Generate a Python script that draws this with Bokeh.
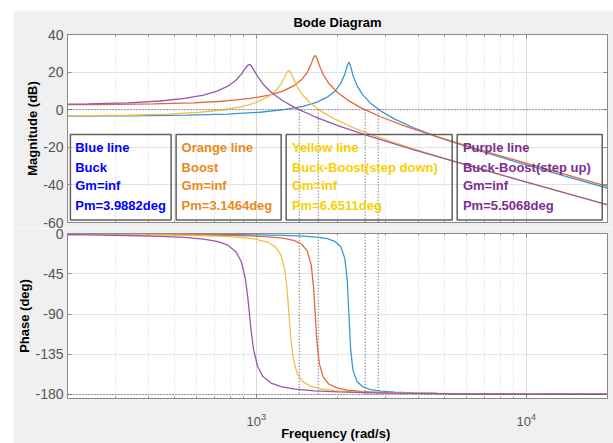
from bokeh.plotting import figure
from bokeh.layouts import column
from bokeh.models import (FixedTicker, LogAxis, LinearAxis, Range1d, Span, CustomJSTickFormatter)
from bokeh.core.properties import value
from bokeh.embed import file_html
from bokeh.resources import INLINE

# ---------------- data ----------------
blue_w = [175, 349, 554, 782, 1031, 1268, 1490, 1672, 1833, 1964, 2057, 2129, 2174, 2204,
          2235, 2281, 2362, 2473, 2650, 2906, 3260, 3830, 4712, 6212, 8774, 13907, 22040]
blue_mag = [-3.45, -3.28, -2.93, -2.33, -1.36, -0.01, 1.80, 3.92, 6.68, 10.13, 14.00, 18.97, 23.47, 25.36,
            23.24, 18.37, 12.80, 8.13, 3.48, -0.88, -5.00, -9.61, -14.56, -20.33, -26.93, -35.28, -43.41]
blue_phase = [-0.17, -0.34, -0.55, -0.84, -1.24, -1.78, -2.57, -3.69, -5.56, -8.88, -14.62, -27.58, -52.49, -90.0,
              -127.45, -152.43, -165.39, -171.12, -174.44, -176.31, -177.43, -178.22, -178.76, -179.16, -179.45, -179.66, -179.79]

orange_w = [131, 262, 416, 587, 774, 952, 1118, 1255, 1376, 1474, 1544, 1598, 1631, 1654,
            1677, 1712, 1772, 1856, 1989, 2181, 2447, 2874, 3536, 4662, 6585, 10437, 16540, 37030]
orange_mag = [2.56, 2.72, 3.07, 3.67, 4.64, 5.99, 7.79, 9.91, 12.65, 16.05, 19.79, 24.31, 27.75, 28.88,
              27.51, 23.70, 18.59, 14.05, 9.45, 5.11, 0.99, -3.61, -8.56, -14.33, -20.94, -29.28, -37.41, -51.48]
orange_phase = [-0.22, -0.45, -0.74, -1.12, -1.65, -2.36, -3.42, -4.90, -7.38, -11.75, -19.15, -34.81, -60.03, -90.0,
                -119.91, -145.21, -160.86, -168.25, -172.62, -175.10, -176.58, -177.64, -178.35, -178.88, -179.26, -179.55, -179.72, -179.88]

yellow_w = [105, 210, 332, 469, 618, 761, 894, 1003, 1100, 1178, 1234, 1277, 1304, 1322,
            1340, 1369, 1417, 1483, 1589, 1743, 1955, 2297, 2826, 3726, 5263, 8342, 13220, 29590]
yellow_mag = [-3.45, -3.28, -2.94, -2.33, -1.36, -0.02, 1.78, 3.89, 6.61, 9.95, 13.53, 17.56, 20.18, 20.89,
              19.95, 16.95, 12.33, 7.95, 3.41, -0.91, -5.02, -9.62, -14.56, -20.33, -26.94, -35.28, -43.41, -57.48]
yellow_phase = [-0.28, -0.56, -0.93, -1.40, -2.07, -2.97, -4.30, -6.15, -9.24, -14.64, -23.57, -41.13, -65.35, -90.0,
                -114.65, -138.87, -156.43, -165.36, -170.76, -173.85, -175.71, -177.03, -177.93, -178.60, -179.07, -179.44, -179.65, -179.85]

purple_w = [75, 150, 237, 335, 442, 543, 638, 716, 785, 841, 881, 912, 931, 944,
            957, 977, 1012, 1059, 1135, 1245, 1396, 1641, 2018, 2661, 3758, 5956, 9440, 21140]
purple_mag = [2.56, 2.72, 3.06, 3.66, 4.63, 5.97, 7.76, 9.84, 12.50, 15.69, 18.92, 22.06, 23.67, 23.99,
              23.43, 21.46, 17.71, 13.69, 9.31, 5.04, 0.96, -3.63, -8.57, -14.34, -20.94, -29.28, -37.41, -51.48]
purple_phase = [-0.39, -0.78, -1.29, -1.96, -2.89, -4.14, -5.99, -8.56, -12.80, -20.04, -31.35, -50.64, -71.80, -90.0,
                -108.20, -129.36, -148.65, -159.96, -167.20, -171.45, -174.01, -175.86, -177.11, -178.04, -178.71, -179.22, -179.51, -179.78]

# gain-crossover frequencies (rad/s) marked with dotted verticals
crossover_w = [1443, 1697, 2532, 2830]

series_names = ["Blue line", "Orange line", "Yellow line", "Purple line"]
converter_types = ["Buck", "Boost", "Buck-Boost(step down)", "Buck-Boost(step up)"]
gain_margins = ["inf", "inf", "inf", "inf"]
phase_margins = ["3.9882", "3.1464", "6.6511", "5.5068"]

mag_ticks = [-60, -40, -20, 0, 20, 40]
phase_ticks = [-180, -135, -90, -45, 0]
freq_major_ticks = [1000, 10000]
freq_minor_ticks = [200, 300, 400, 500, 600, 700, 800, 900,
                    2000, 3000, 4000, 5000, 6000, 7000, 8000, 9000, 20000]

# ---------------- styling ----------------
FONT = "Liberation Sans"
LINE_COLORS = ["#3b97d3", "#e2683c", "#f2c04a", "#9a56ad"]
TEXT_COLORS = ["#0000ff", "#e98a1d", "#f8d000", "#7e2f8e"]
AXIS_C = "#8a8a8a"
TICKLBL_C = "#555555"
BG = "#f0f0f0"
BLANK = "return ''"

X0, X1 = 200, 20000


def xticker():
    return FixedTicker(ticks=freq_major_ticks, minor_ticks=freq_minor_ticks)


def style(p, ylabel, yticks, show_x_labels, top_label=None):
    p.background_fill_color = "white"
    p.border_fill_color = BG
    p.outline_line_color = AXIS_C
    p.xaxis.ticker = xticker()
    p.xgrid.ticker = xticker()
    p.xgrid.grid_line_color = "#d9d9d9"
    p.xgrid.minor_grid_line_color = "#d6d6d6"
    p.xgrid.minor_grid_line_dash = "1 2"
    p.ygrid.ticker = FixedTicker(ticks=yticks)
    p.ygrid.grid_line_color = "#e3e3e3"
    p.yaxis.ticker = FixedTicker(ticks=yticks)
    p.yaxis.major_label_overrides = {t: str(t) for t in yticks}
    for ax in p.xaxis + p.yaxis:
        ax.axis_line_color = AXIS_C
        ax.major_tick_line_color = AXIS_C
        ax.minor_tick_line_color = AXIS_C
        ax.major_tick_in = 4
        ax.major_tick_out = 0
        ax.minor_tick_in = 2
        ax.minor_tick_out = 0
        ax.major_label_text_color = TICKLBL_C
        ax.major_label_text_font = FONT
        ax.axis_label_text_font = FONT
        ax.axis_label_text_font_style = "bold"
        ax.axis_label_text_color = "black"
        ax.axis_label_text_font_size = "13px"
    p.yaxis.major_label_text_font_size = "14px"
    p.yaxis.major_label_standoff = 4
    p.yaxis.axis_label = ylabel
    p.yaxis.axis_label_standoff = 0
    if show_x_labels:
        p.xaxis.major_label_text_font_size = "13px"
        p.xaxis.major_label_standoff = 14
    else:
        p.xaxis.formatter = CustomJSTickFormatter(code=BLANK)
        p.xaxis.major_label_standoff = 0
    # box ticks on the top and right sides
    top = LogAxis(ticker=xticker(), formatter=CustomJSTickFormatter(code=BLANK),
                  major_label_standoff=0, major_tick_in=4, major_tick_out=0, minor_tick_in=2,
                  minor_tick_out=0, axis_line_color=AXIS_C, major_tick_line_color=AXIS_C,
                  minor_tick_line_color=AXIS_C)
    if top_label:
        top.axis_label = top_label
        top.axis_label_text_font = FONT
        top.axis_label_text_font_style = "bold"
        top.axis_label_text_font_size = "13px"
        top.axis_label_text_color = "black"
        top.axis_label_standoff = 5
    p.add_layout(top, "above")
    right = LinearAxis(ticker=FixedTicker(ticks=yticks), formatter=CustomJSTickFormatter(code=BLANK),
                       major_label_standoff=0, major_tick_in=4, major_tick_out=0,
                       axis_line_color=AXIS_C, major_tick_line_color=AXIS_C)
    p.add_layout(right, "right")


p1 = figure(width=600, height=218, x_axis_type="log", x_range=Range1d(X0, X1),
            y_range=Range1d(-60, 40), output_backend="svg", toolbar_location=None,
            min_border_left=54, min_border_right=6, min_border_top=24, min_border_bottom=6,
            margin=(10, 0, 0, 13))
style(p1, "Magnitude (dB)", mag_ticks, False, top_label="Bode Diagram")

p2 = figure(width=600, height=215, x_axis_type="log", x_range=Range1d(X0, X1),
            y_range=Range1d(-184.5, 0.3), output_backend="svg", toolbar_location=None,
            min_border_left=54, min_border_right=6, min_border_top=5, min_border_bottom=45,
            margin=(0, 0, 0, 13))
style(p2, "Phase (deg)", phase_ticks, True)
p2.below[0].axis_label = "Frequency  (rad/s)"
p2.below[0].axis_label_standoff = -3

# reference lines
p1.add_layout(Span(location=0, dimension="width", line_color="#4a4a4a", line_dash="1 2", line_width=1))
p2.add_layout(Span(location=-180, dimension="width", line_color="#4a4a4a", line_dash="1 2", line_width=1))
p1.segment(x0=crossover_w, y0=[0] * 4, x1=crossover_w, y1=[mag_ticks[0]] * 4,
           line_color="#4a4a4a", line_dash="1 2", line_width=1)
p2.segment(x0=crossover_w, y0=[phase_ticks[-1]] * 4, x1=crossover_w, y1=[phase_ticks[0]] * 4,
           line_color="#4a4a4a", line_dash="1 2", line_width=1)

mags = [(blue_w, blue_mag), (orange_w, orange_mag), (yellow_w, yellow_mag), (purple_w, purple_mag)]
phases = [(blue_w, blue_phase), (orange_w, orange_phase), (yellow_w, yellow_phase), (purple_w, purple_phase)]
for (w, m), c in zip(mags, LINE_COLORS):
    p1.line(w, m, line_color=c, line_width=1.3)
for (w, ph), c in zip(phases, LINE_COLORS):
    p2.line(w, ph, line_color=c, line_width=1.3)

# annotation boxes (layout positions)
box_left = [205, 505, 1291, 5551]
box_right = [484, 1237, 5318, 19120]
box_top, box_bottom = -13.2, -58.7
p1.quad(left=box_left, right=box_right, top=[box_top] * 4, bottom=[box_bottom] * 4,
        fill_alpha=0, line_color="#606060", line_width=1.5)

text_x = [213.6, 529, 1356, 5829]
row_y = [-20.1, -30.5, -40.3, -50.8]
for i in range(4):
    lines = [series_names[i], converter_types[i], "Gm=" + gain_margins[i], "Pm=" + phase_margins[i] + "deg"]
    p1.text(x=[text_x[i]] * 4, y=row_y, text=lines, text_color=TEXT_COLORS[i],
            text_font=value(FONT), text_font_style="bold", text_font_size="13px",
            text_baseline="middle", text_align="left")

layout = column(p1, p2, spacing=0)
open("out.html", "w").write(file_html(layout, INLINE))
